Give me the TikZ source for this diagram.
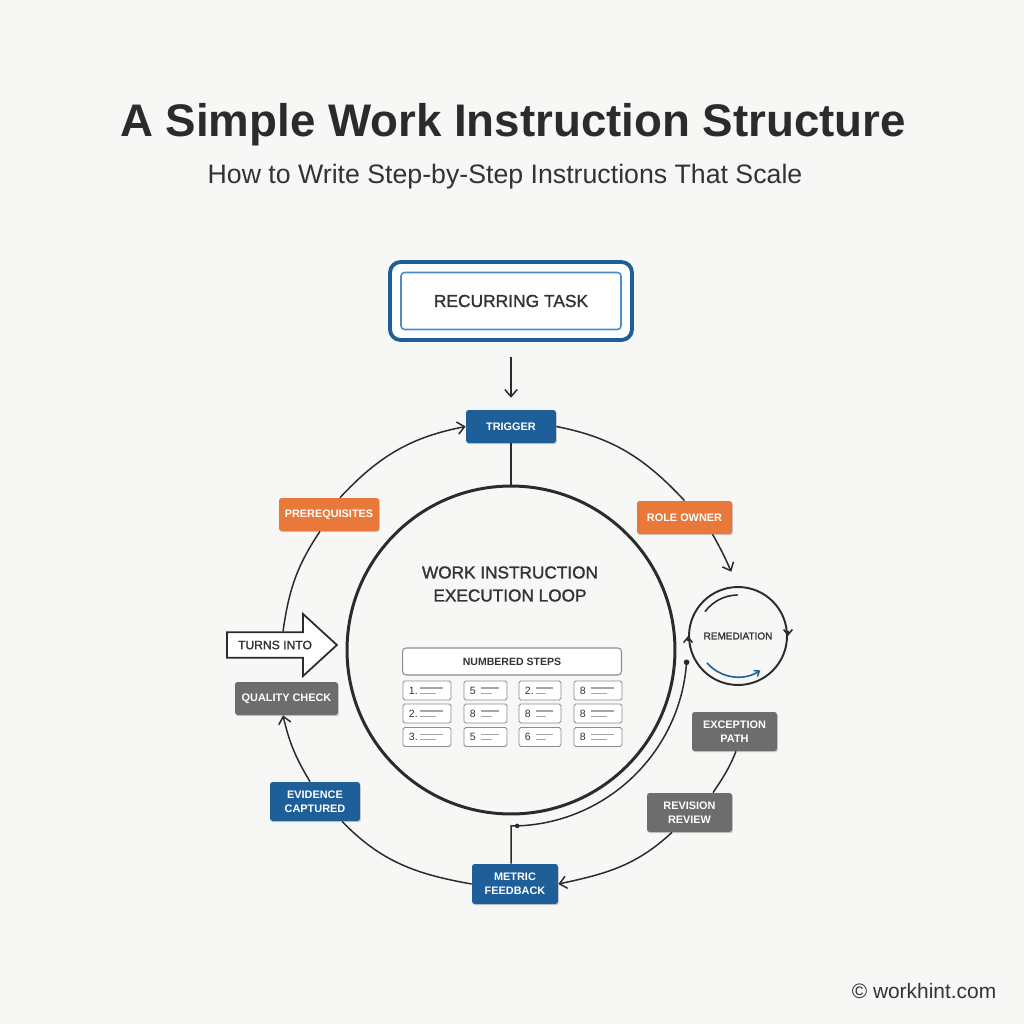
\documentclass[tikz,border=0pt]{standalone}
\usepackage{fontspec}
\setmainfont{Liberation Sans}
\newfontfamily\medfont[FakeBold=1.4]{Liberation Sans}
\usetikzlibrary{positioning,arrows.meta,shapes.arrows,shadows,calc}
\definecolor{wh-blue}{HTML}{1F5F99}
\definecolor{wh-lblue}{HTML}{4A8DCC}
\definecolor{wh-orange}{HTML}{E8793A}
\definecolor{wh-grey}{HTML}{6D6D6D}
\definecolor{wh-ink}{HTML}{2B2B2B}
\definecolor{wh-text}{HTML}{333333}
\definecolor{wh-paper}{HTML}{F7F7F6}

\begin{document}
\begin{tikzpicture}[x=0.02cm, y=0.02cm,
          tag/.style={
            rounded corners=1.5pt, text=white, align=center, inner sep=0pt,
            minimum height=0.66cm, font=\bfseries\fontsize{6.2}{8}\selectfont,
            drop shadow={shadow xshift=0.5pt, shadow yshift=-0.7pt, opacity=0.18, fill=black}},
          bluetag/.style={tag, fill=wh-blue},
          orangetag/.style={tag, fill=wh-orange},
          greytag/.style={tag, fill=wh-grey},
          cell/.style={
            draw=black!45, fill=white, rounded corners=1pt, line width=0.5pt,
            minimum height=0.38cm, inner sep=0pt},
          link/.style={wh-ink, line width=0.85pt},
          arr/.style={link, -{Straight Barb[length=4pt, width=7pt]}}
        ]
        \fill[wh-paper] (0,0) rectangle (1024,-1024);
        \useasboundingbox (0,0) rectangle (1024,-1024);

        \node[anchor=base, text=wh-text!85!black, font=\bfseries\fontsize{26}{30}\selectfont] (title)
          at (513,-136) {A Simple Work Instruction Structure};
        \node[anchor=base, text=wh-text, font=\fontsize{15.2}{18}\selectfont] (subtitle)
          at (505,-183) {How to Write Step-by-Step Instructions That Scale};

        \node[draw=wh-blue, fill=white, line width=2.2pt, rounded corners=6pt,
          minimum width=4.84cm, minimum height=1.56cm] (frame) at (511,-301) {};
        \node[draw=wh-lblue, line width=0.9pt, rounded corners=2pt, minimum width=4.4cm,
          minimum height=1.14cm, text=wh-text, font=\medfont\fontsize{9.9}{12}\selectfont] (task)
          at (511,-301) {RECURRING TASK};

        \node[bluetag, minimum width=1.8cm] (trigger) at (511,-426.5) {TRIGGER};
        \draw[arr, shorten <=8.5pt, shorten >=6.8pt] (frame.south) -- (trigger.north);

        \node[circle, draw=wh-ink, line width=1.7pt, minimum size=6.56cm, inner sep=0pt] (loop)
          at (511,-650) {};
        \node[align=center, text=wh-text, font=\medfont\fontsize{9.8}{13.1}\selectfont] (looptitle)
          at (510,-584) {WORK INSTRUCTION\\EXECUTION LOOP};
        \draw[link] (trigger.south) -- (loop.north);

        \node[draw=black!45, fill=white, rounded corners=2pt, line width=0.6pt,
          minimum width=4.38cm, minimum height=0.54cm, text=wh-text,
          font=\bfseries\fontsize{6}{7}\selectfont] (steps) at (512,-661.5) {NUMBERED STEPS};
        \foreach \cx/\w/\na/\nb/\nc [count=\i] in
            {427/0.96/1./2./3., 485.5/0.86/5/8/5, 540/0.84/2./8/6, 598/0.96/8/8/8}
          \foreach \cy/\n [count=\j] in {690.5/\na, 713.5/\nb, 737/\nc} {
            \node[cell, minimum width=\w cm] (c\i\j) at (\cx,-\cy) {};
            \node[anchor=west, inner sep=0pt, text=wh-text, font=\fontsize{6}{6.5}\selectfont]
              at ([xshift=0.12cm]c\i\j.west) {\n};
            \draw[black!35, line width=0.7pt]
              ([xshift=0.34cm, yshift=1.4pt]c\i\j.west) -- ([xshift=-0.16cm, yshift=1.4pt]c\i\j.east);
            \draw[black!35, line width=0.7pt]
              ([xshift=0.34cm, yshift=-1.6pt]c\i\j.west) -- ([xshift=-0.3cm, yshift=-1.6pt]c\i\j.east);
          }

        \node[orangetag, minimum width=2cm] (prereq) at (329,-514.5) {PREREQUISITES};
        \node[orangetag, minimum width=1.9cm] (owner) at (684.5,-517.5) {ROLE OWNER};
        \node[single arrow, draw=wh-ink, fill=white, line width=1pt, minimum height=2.2cm,
          minimum width=1.24cm, single arrow head extend=0.32cm, single arrow tip angle=85,
          inner xsep=2pt, text=wh-text, font=\medfont\fontsize{6.9}{8}\selectfont] (turns)
          at (275,-645) {TURNS INTO};
        \node[greytag, minimum width=2.06cm] (quality) at (286.5,-698.5) {QUALITY CHECK};
        \node[bluetag, minimum width=1.8cm, minimum height=0.78cm] (evidence)
          at (315,-801.5) {EVIDENCE\\CAPTURED};
        \node[bluetag, minimum width=1.72cm, minimum height=0.8cm] (metric)
          at (515,-884) {METRIC\\FEEDBACK};
        \node[greytag, minimum width=1.7cm, minimum height=0.78cm] (revision)
          at (689.5,-812.5) {REVISION\\REVIEW};
        \node[greytag, minimum width=1.7cm, minimum height=0.78cm] (exception)
          at (734.5,-731.5) {EXCEPTION\\PATH};
        \node[circle, draw=wh-ink, line width=1.1pt, minimum size=1.96cm, inner sep=0pt,
          text=wh-text, font=\medfont\fontsize{5.7}{7}\selectfont] (remed) at (738,-636) {REMEDIATION};

        \draw[arr] ($(prereq.north)+(11,0)$) to[out=47, in=191] (trigger.west);
        \draw[link] (trigger.east) to[out=-11, in=133] (owner.north);
        \draw[arr, shorten >=9pt] ($(owner.south)+(28,0)$) to[out=-60, in=115] (remed.north);
        \draw[link] ($(prereq.south)+(-9,0)$) to[out=236, in=82] ($(turns.north)+(8,0)$);
        \draw[arr] ($(evidence.north)+(-5,0)$) to[out=121, in=283] ($(quality.south)+(-3.5,0)$);
        \draw[link] ($(evidence.south)+(27,0)$) to[out=-46, in=170] (metric.west);
        \draw[arr] ($(revision.south)+(-17.5,0)$) to[out=223, in=12] (metric.east);
        \draw[link] ($(exception.south)+(1.5,0)$) to[out=248, in=56] ($(revision.north)+(23.5,0)$);

        \coordinate (fbk) at ($(loop.center)+(-88:176)$);
        \draw[link] ($(metric.north)+(-4,0)$) |- (fbk)
          arc[start angle=-88, end angle=-4, radius=176] coordinate (fbkend);
        \fill[wh-ink] (fbk) circle[radius=1.3pt];
        \fill[wh-ink] (fbkend) circle[radius=1.6pt];

        \draw[wh-ink, line width=0.9pt, -{Straight Barb[length=3pt, width=5pt]}]
          ([yshift=-3pt]remed.west) -- (remed.west);
        \draw[wh-ink, line width=0.9pt, -{Straight Barb[length=3pt, width=5pt]}]
          ([yshift=3pt]remed.east) -- (remed.east);
        \draw[wh-ink, line width=0.9pt, line cap=round]
          ([shift={(143:41)}]remed.center) arc[start angle=143, end angle=91, radius=41];
        \draw[wh-blue, line width=0.9pt, -{Straight Barb[length=2.5pt, width=4pt]}]
          ([shift={(221:41)}]remed.center) arc[start angle=221, end angle=303, radius=41];

        \node[anchor=base, text=wh-text, font=\fontsize{11.9}{14}\selectfont] (credit)
          at (924,-998) {© workhint.com};
      \end{tikzpicture}
\end{document}
